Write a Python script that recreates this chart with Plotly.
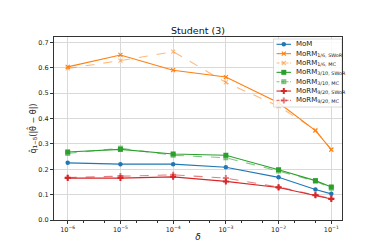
import plotly.graph_objects as go

deltas = [1e-6, 1e-5, 1e-4, 1e-3, 1e-2, 5e-2, 1e-1]
mom = [0.225, 0.220, 0.220, 0.208, 0.168, 0.120, 0.103]
morm16_swor = [0.603, 0.650, 0.590, 0.563, 0.462, 0.352, 0.277]
morm16_mc = [0.597, 0.628, 0.663, 0.542, 0.448, 0.355, 0.277]
morm310_swor = [0.268, 0.278, 0.260, 0.255, 0.198, 0.155, 0.130]
morm310_mc = [0.262, 0.283, 0.255, 0.245, 0.193, 0.153, 0.125]
morm920_swor = [0.165, 0.165, 0.170, 0.152, 0.128, 0.097, 0.083]
morm920_mc = [0.167, 0.173, 0.178, 0.165, 0.130, 0.098, 0.085]

xtick_vals = [1e-6, 1e-5, 1e-4, 1e-3, 1e-2, 1e-1]
xtick_text = ["10<sup>−6</sup>", "10<sup>−5</sup>", "10<sup>−4</sup>", "10<sup>−3</sup>", "10<sup>−2</sup>", "10<sup>−1</sup>"]
ytick_vals = [0.0, 0.1, 0.2, 0.3, 0.4, 0.5, 0.6, 0.7]

series = [
    ("MoM", mom, "#1f77b4", "solid", "circle", 4.5),
    ("MoRM<sub>1/6, SWoR</sub>", morm16_swor, "#ff7f0e", "solid", "x-thin-open", 4),
    ("MoRM<sub>1/6, MC</sub>", morm16_mc, "rgba(255,127,14,0.55)", "dash", "x-thin-open", 4),
    ("MoRM<sub>3/10, SWoR</sub>", morm310_swor, "#2ca02c", "solid", "square", 5),
    ("MoRM<sub>3/10, MC</sub>", morm310_mc, "rgba(44,160,44,0.6)", "dash", "square", 5),
    ("MoRM<sub>9/20, SWoR</sub>", morm920_swor, "#d62728", "solid", "cross", 5),
    ("MoRM<sub>9/20, MC</sub>", morm920_mc, "rgba(214,39,40,0.6)", "dash", "cross", 5),
]

fig = go.Figure()
for name, vals, color, dash, sym, size in series:
    fig.add_trace(go.Scatter(
        x=deltas, y=vals, name=name, mode="lines+markers", showlegend=False,
        line=dict(color=color, width=1.1, dash=dash),
        marker=dict(symbol=sym, size=size, color=color, line=dict(color=color, width=1.1 if "thin" in sym else 0)),
    ))

# --- legend drawn on an overlay axis in plot-fraction units ---
PW, PH = 288.0, 183.0  # plot area size in px
def fx(px):
    return (px - 46) / PW
def fy(py):
    return (212 - py) / PH

bx0, bx1, by0, by1 = fx(265.5), fx(334), fy(31), fy(99)
fig.add_trace(go.Scatter(
    x=[bx0, bx1, bx1, bx0, bx0], y=[by0, by0, by1, by1, by0],
    xaxis="x2", yaxis="y2", mode="lines", fill="toself",
    fillcolor="rgba(255,255,255,0.85)", line=dict(color="#d0d0d0", width=0.8),
    showlegend=False, hoverinfo="skip",
))
row0, rowh = 36.3, 9.35
for i, (name, vals, color, dash, sym, size) in enumerate(series):
    yc = fy(row0 + i * rowh)
    fig.add_trace(go.Scatter(
        x=[fx(268.5), fx(283)], y=[yc, yc], xaxis="x2", yaxis="y2",
        mode="lines", line=dict(color=color, width=1.1, dash="3px,1.5px" if dash == "dash" else "solid"),
        showlegend=False, hoverinfo="skip",
    ))
    fig.add_trace(go.Scatter(
        x=[fx(275.8)], y=[yc], xaxis="x2", yaxis="y2", mode="markers",
        marker=dict(symbol=sym, size=size, color=color, line=dict(color=color, width=1.1 if "thin" in sym else 0)),
        showlegend=False, hoverinfo="skip",
    ))
    fig.add_annotation(
        x=fx(285.5), y=yc, xref="x2", yref="y2", text=name, showarrow=False,
        xanchor="left", yanchor="middle", font=dict(size=7, color="#222"),
    )

fig.update_layout(
    width=374, height=243,
    margin=dict(l=46, r=40, t=29, b=31),
    paper_bgcolor="white", plot_bgcolor="white",
    font=dict(family="DejaVu Sans", size=7, color="#222"),
    title=dict(text="Student (3)", x=0.5, xanchor="center", xref="paper",
               y=1 - 23 / 243, yanchor="middle", font=dict(size=9.5, color="#111")),
    showlegend=False,
    xaxis=dict(
        type="log", range=[-6.26, -0.797], automargin=False,
        tickvals=xtick_vals, ticktext=xtick_text,
        showgrid=True, gridcolor="#d9d9d9", gridwidth=1,
        showline=True, linecolor="#333", linewidth=1, mirror=True,
        ticks="outside", ticklen=3, tickcolor="#333",
        minor=dict(ticks="outside", ticklen=1.5, tickcolor="#333", showgrid=False),
        tickfont=dict(size=6.5),
        title=dict(text="<i>δ</i>", font=dict(size=9), standoff=0),
    ),
    yaxis=dict(
        range=[0, 0.7207], tickvals=ytick_vals, tickformat=".1f", automargin=False,
        showgrid=True, gridcolor="#d9d9d9", gridwidth=1,
        showline=True, linecolor="#333", linewidth=1, mirror=True,
        ticks="outside", ticklen=3, tickcolor="#333",
        tickfont=dict(size=6.5), zeroline=False,
        title=dict(text="q̂<sub>1−δ</sub>(|θ̂ − θ|)", font=dict(size=8), standoff=0),
    ),
    xaxis2=dict(overlaying="x", range=[0, 1], visible=False, fixedrange=True),
    yaxis2=dict(overlaying="y", range=[0, 1], visible=False, fixedrange=True),
)

fig.write_html("out.html")
